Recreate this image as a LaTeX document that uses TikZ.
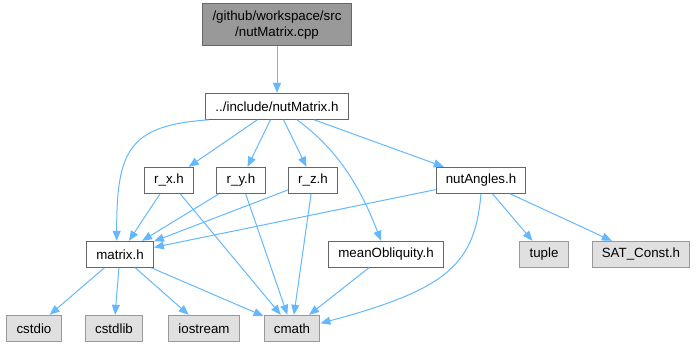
\documentclass[tikz,border=0pt]{standalone}
\usepackage{fontspec}
\setmainfont{Liberation Sans}
\usetikzlibrary{positioning,arrows.meta}
\definecolor{edgeblue}{HTML}{63B8FF}
\definecolor{boxborder}{HTML}{666666}
\definecolor{sysborder}{HTML}{999999}
\definecolor{sysfill}{HTML}{E0E0E0}
\definecolor{srcfill}{HTML}{999999}

\begin{document}
\begin{tikzpicture}[node distance=55.5pt, every node/.style={draw=boxborder, line width=0.75pt, minimum height=19.5pt,
    inner xsep=7.3pt, inner ysep=2pt, align=center, font=\fontsize{10}{12}\selectfont},
    hdr/.style={fill=white},
    sys/.style={draw=sysborder, fill=sysfill},
    src/.style={fill=srcfill, minimum height=31.5pt},
    >={Triangle[length=7.5pt,width=6pt]},
    every edge/.style={draw=edgeblue, line width=0.75pt}]
    \useasboundingbox (-207.75pt,18.75pt) rectangle (314.25pt,-240.75pt);

    \node[src] (src) {/github/workspace/src\\/nutMatrix.cpp};
    \node[hdr, below of=src, node distance=61pt] (nutmatrix) {../include/nutMatrix.h};
    \node[hdr, below of=nutmatrix, xshift=-81pt] (rx) {r\_x.h};
    \node[hdr, below of=nutmatrix, xshift=-27pt] (ry) {r\_y.h};
    \node[hdr, below of=nutmatrix, xshift=27pt] (rz) {r\_z.h};
    \node[hdr, below of=nutmatrix, xshift=153pt] (nutangles) {nutAngles.h};
    \node[hdr, below of=rx, xshift=-36.75pt] (matrix) {matrix.h};
    \node[hdr, below of=rz, xshift=54.75pt] (meanobl) {meanObliquity.h};
    \node[sys, below of=nutangles, xshift=47.25pt] (tuple) {tuple};
    \node[sys, right of=tuple, node distance=72.75pt] (satconst) {SAT\_Const.h};
    \node[sys, below of=matrix, xshift=-4.5pt] (cstdlib) {cstdlib};
    \node[sys, left of=cstdlib, node distance=60pt] (cstdio) {cstdio};
    \node[sys, right of=cstdlib, node distance=67.5pt] (iostream) {iostream};
    \node[sys, right of=iostream, node distance=66pt] (cmath) {cmath};

    \path[->] (src) edge (nutmatrix);
    \path[->] ([xshift=2.5pt]nutmatrix.south west) edge[out=184, in=90, out distance=60pt, in distance=68pt] ([xshift=-2.5pt]matrix.north);
    \path[->] (nutmatrix) edge (rx);
    \path[->] (nutmatrix) edge (ry);
    \path[->] (nutmatrix) edge (rz);
    \path[->] ([xshift=15pt]nutmatrix.south) edge[out=-36, in=111, out distance=40pt, in distance=40pt] ([xshift=-3.75pt]meanobl.north);
    \path[->] (nutmatrix) edge (nutangles);

    \path[->] (rx) edge (matrix);
    \path[->] (rx) edge (cmath);
    \path[->] (ry) edge (matrix);
    \path[->] (ry) edge (cmath);
    \path[->] (rz) edge (matrix);
    \path[->] (rz) edge (cmath);

    \path[->] (nutangles) edge (matrix);
    \path[->] (nutangles.south) edge[out=-95, in=15, out distance=53pt, in distance=99pt] ([yshift=3.75pt]cmath.east);
    \path[->] (nutangles) edge (tuple);
    \path[->] (nutangles) edge (satconst);

    \path[->] (matrix) edge (cstdio);
    \path[->] (matrix) edge (cstdlib);
    \path[->] (matrix) edge (iostream);
    \path[->] (matrix) edge (cmath);
    \path[->] (meanobl) edge (cmath);
  \end{tikzpicture}
\end{document}
